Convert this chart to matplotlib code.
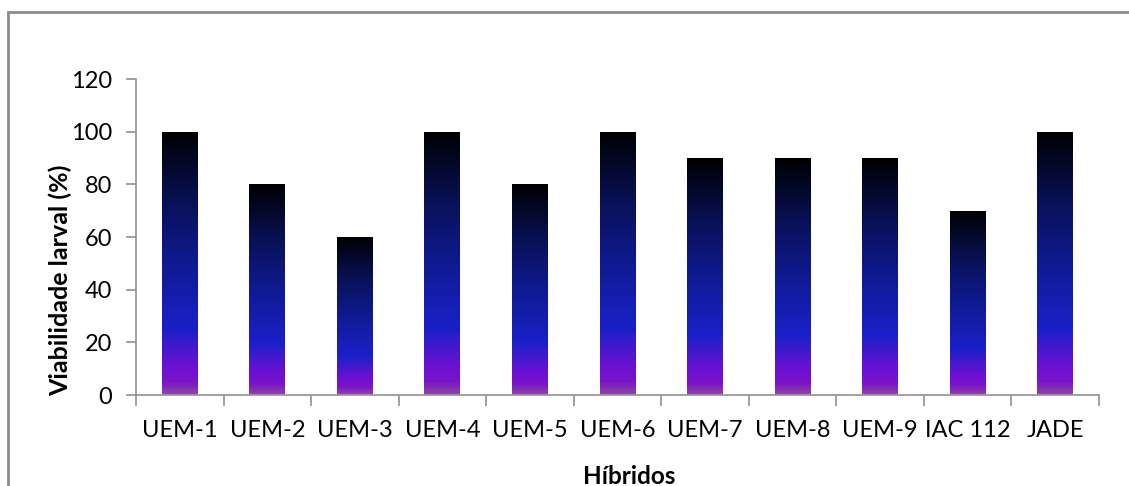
import matplotlib.pyplot as plt
import numpy as np
from matplotlib.colors import LinearSegmentedColormap
from matplotlib.patches import Rectangle

hibridos = ["UEM-1", "UEM-2", "UEM-3", "UEM-4", "UEM-5", "UEM-6",
            "UEM-7", "UEM-8", "UEM-9", "IAC 112", "JADE"]
viabilidade = [100, 80, 60, 100, 80, 100, 90, 90, 90, 70, 100]

plt.rcParams['font.family'] = ['Lato', 'DejaVu Sans']

# bottom-to-top fill used inside each bar
grad = LinearSegmentedColormap.from_list("barfill", [
    (0.00, "#8c4a9c"),
    (0.05, "#7a14c8"),
    (0.11, "#6c10d2"),
    (0.25, "#1a20c8"),
    (0.50, "#0f1a92"),
    (0.75, "#081052"),
    (1.00, "#000000"),
])

fig = plt.figure(figsize=(11.29, 4.86), dpi=100)
ax = fig.add_axes([136 / 1129, 1 - 395 / 486, (1099 - 136) / 1129, (395 - 79) / 486])

# outer chart frame
fig.patches.append(Rectangle((8 / 1129, -0.05), 1.2, 1 - 12 / 486 + 0.05,
                             transform=fig.transFigure, fill=False,
                             edgecolor="#8c8c8c", linewidth=2))

x = np.arange(len(hibridos))
bars = ax.bar(x, viabilidade, width=0.41, color="none", edgecolor="none")
ramp = np.linspace(0, 1, 256).reshape(-1, 1)
for b in bars:
    x0, w, h = b.get_x(), b.get_width(), b.get_height()
    im = ax.imshow(ramp, cmap=grad, origin="lower", aspect="auto",
                   extent=[x0, x0 + w, 0, h], zorder=2)
    im.set_clip_path(b)

ax.set_xlim(-0.5, len(hibridos) - 0.5)
ax.set_ylim(0, 120)
ax.set_yticks(np.arange(0, 121, 20))

spine_col = "#9a9a9a"
for side in ("top", "right"):
    ax.spines[side].set_visible(False)
for side in ("left", "bottom"):
    ax.spines[side].set_color(spine_col)
    ax.spines[side].set_linewidth(1.3)

ax.set_xticks(x)
ax.set_xticklabels(hibridos)
ax.set_xticks(np.arange(-0.5, len(hibridos)), minor=True)
ax.tick_params(axis="x", which="major", length=0, pad=18, labelsize=17)
ax.tick_params(axis="x", which="minor", length=8, width=1.3, color=spine_col)
ax.tick_params(axis="y", length=7, width=1.3, color=spine_col, pad=10, labelsize=17)

ax.set_xlabel("Híbridos", fontsize=17.5, fontweight="bold")
ax.set_ylabel("Viabilidade larval (%)", fontsize=18, fontweight="bold")
ax.xaxis.set_label_coords(0.512, -0.222)
ax.yaxis.set_label_coords(-0.066, 0.364)

fig.savefig("out.png", dpi=100)
